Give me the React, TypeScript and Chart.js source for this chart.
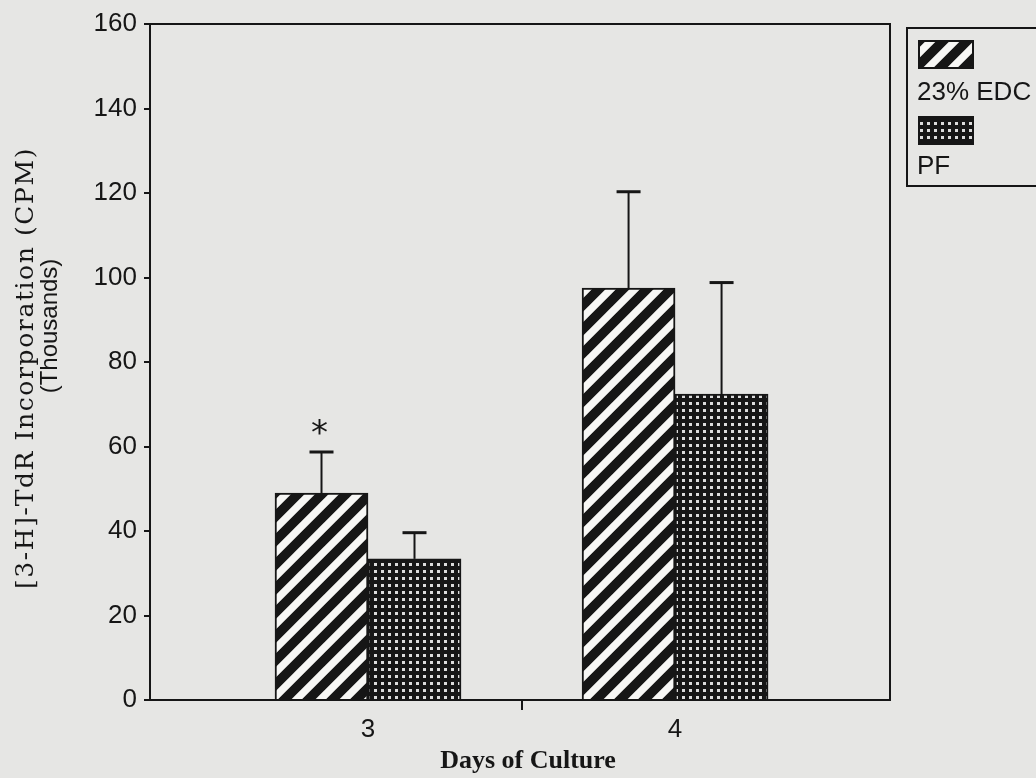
import React, { useEffect, useRef } from 'react';
import { Chart, registerables } from 'chart.js';

Chart.register(...registerables);

// ---- data ----
const days = [3, 4];
const dayLabels = ['3', '4'];
const seriesNames = ['23% EDC', 'PF'];
const edcValues = [49.0, 97.5];
const edcErrorTops = [58.7, 120.3];
const pfValues = [33.4, 72.4];
const pfErrorTops = [39.6, 98.8];
const significance = ['*', ''];
const xDividers = [3.5];
const yTitleLines = ['[3-H]-TdR Incorporation (CPM)', '(Thousands)'];
const xTitle = 'Days of Culture';

const INK = '#161616';
const PAPER = '#e6e6e4';

function stripePattern(): CanvasPattern | string {
  const s = 24;
  const c = document.createElement('canvas');
  c.width = s;
  c.height = s;
  const g = c.getContext('2d')!;
  g.fillStyle = '#f7f7f5';
  g.fillRect(0, 0, s, s);
  g.strokeStyle = INK;
  g.lineWidth = 9.5;
  g.beginPath();
  for (const o of [-s, 0, s]) {
    g.moveTo(o - 4, s + 4);
    g.lineTo(o + s + 4, -4);
  }
  g.stroke();
  const p = g.createPattern(c, 'repeat');
  return p || INK;
}

function dotPattern(): CanvasPattern | string {
  const s = 7;
  const c = document.createElement('canvas');
  c.width = s;
  c.height = s;
  const g = c.getContext('2d')!;
  g.fillStyle = INK;
  g.fillRect(0, 0, s, s);
  g.fillStyle = '#dcdcdc';
  g.fillRect(3, 3, 3, 3);
  const p = g.createPattern(c, 'repeat');
  return p || INK;
}

export default function App() {
  const ref = useRef<HTMLCanvasElement | null>(null);

  useEffect(() => {
    const canvas = ref.current;
    if (!canvas) return;
    const stripes = stripePattern();
    const dots = dotPattern();
    const errorTops = [edcErrorTops, pfErrorTops];
    const fills = [stripes, dots];

    const bgPlugin = {
      id: 'paper',
      beforeDraw(chart: any) {
        const ctx = chart.ctx;
        ctx.save();
        ctx.fillStyle = PAPER;
        ctx.fillRect(0, 0, chart.width, chart.height);
        ctx.restore();
      },
    };

    const decorPlugin = {
      id: 'decor',
      afterDraw(chart: any) {
        const ctx: CanvasRenderingContext2D = chart.ctx;
        const { left, right, top, bottom } = chart.chartArea;
        const yScale = chart.scales.y;
        ctx.save();
        ctx.strokeStyle = INK;
        ctx.fillStyle = INK;

        // plot frame (top + right)
        ctx.lineWidth = 2;
        ctx.beginPath();
        ctx.moveTo(left - 4, top);
        ctx.lineTo(right, top);
        ctx.lineTo(right, bottom);
        ctx.stroke();

        // error bars (upper only)
        chart.data.datasets.forEach((_ds: any, di: number) => {
          const meta = chart.getDatasetMeta(di);
          meta.data.forEach((bar: any, j: number) => {
            const yErr = yScale.getPixelForValue(errorTops[di][j]);
            ctx.lineWidth = 2;
            ctx.beginPath();
            ctx.moveTo(bar.x, bar.y);
            ctx.lineTo(bar.x, yErr);
            ctx.stroke();
            ctx.lineWidth = 3;
            ctx.beginPath();
            ctx.moveTo(bar.x - 12, yErr);
            ctx.lineTo(bar.x + 12, yErr);
            ctx.stroke();
            if (di === 0 && significance[j]) {
              ctx.font = '34px "DejaVu Sans"';
              ctx.textAlign = 'center';
              ctx.textBaseline = 'alphabetic';
              const m = ctx.measureText(significance[j]);
              const h = m.actualBoundingBoxAscent + m.actualBoundingBoxDescent;
              const cy = yErr - 25;
              ctx.fillText(significance[j], bar.x - 2, cy + h / 2 - m.actualBoundingBoxDescent);
            }
          });
        });

        // y axis title (two lines, rotated)
        ctx.textAlign = 'center';
        ctx.textBaseline = 'middle';
        ctx.save();
        ctx.translate(26, 368);
        ctx.rotate(-Math.PI / 2);
        ctx.font = '25px "DejaVu Serif"';
        (ctx as any).letterSpacing = '1.6px';
        ctx.fillText(yTitleLines[0], 0, 0);
        ctx.restore();
        ctx.save();
        ctx.translate(50, 326);
        ctx.rotate(-Math.PI / 2);
        ctx.font = '24px "Liberation Sans"';
        ctx.fillText(yTitleLines[1], 0, 0);
        ctx.restore();

        // x axis title
        ctx.font = 'bold 26px "Liberation Serif"';
        ctx.fillText(xTitle, 528, 761);

        // legend
        const lx = 907;
        ctx.lineWidth = 2;
        ctx.strokeRect(lx, 28, 160, 158);
        const swatches = [
          { y: 41, h: 27, textY: 93 },
          { y: 117, h: 27, textY: 167 },
        ];
        swatches.forEach((s, i) => {
          ctx.fillStyle = fills[i] as any;
          ctx.fillRect(919, s.y, 54, s.h);
          ctx.strokeStyle = INK;
          ctx.lineWidth = 2;
          ctx.strokeRect(919, s.y, 54, s.h);
          ctx.fillStyle = INK;
          ctx.font = '26px "Liberation Sans"';
          ctx.textAlign = 'left';
          ctx.textBaseline = 'middle';
          ctx.fillText(seriesNames[i], 917, s.textY);
        });
        ctx.restore();
      },
    };

    const chart = new Chart(canvas, {
      type: 'bar',
      data: {
        datasets: [
          {
            label: seriesNames[0],
            data: days.map((d, i) => ({ x: d, y: edcValues[i] })),
            backgroundColor: stripes as any,
            borderColor: INK,
            borderWidth: 2,
            barThickness: 93,
          },
          {
            label: seriesNames[1],
            data: days.map((d, i) => ({ x: d, y: pfValues[i] })),
            backgroundColor: dots as any,
            borderColor: INK,
            borderWidth: 2,
            barThickness: 93,
          },
        ],
      },
      options: {
        responsive: false,
        animation: false,
        events: [],
        layout: { padding: { left: 0, right: 146, top: 24, bottom: 0 } },
        plugins: {
          legend: { display: false },
          tooltip: { enabled: false },
          title: { display: false },
        },
        scales: {
          x: {
            type: 'linear',
            min: 2.29,
            max: 4.7,
            offset: false,
            afterBuildTicks: (s: any) => {
              s.ticks = [days[0], ...xDividers, days[1]].map((v) => ({ value: v }));
            },
            afterFit: (s: any) => {
              s.height = 78;
            },
            ticks: {
              autoSkip: false,
              maxRotation: 0,
              padding: 4,
              color: INK,
              font: { family: 'Liberation Sans', size: 26 },
              callback: (v: any) => {
                const i = days.indexOf(Number(v));
                return i >= 0 ? dayLabels[i] : '';
              },
            },
            grid: {
              offset: false,
              drawOnChartArea: false,
              drawTicks: true,
              tickLength: 10,
              lineWidth: 2,
              color: (c: any) =>
                c.tick && xDividers.includes(c.tick.value) ? INK : 'rgba(0,0,0,0)',
            },
            border: { display: true, color: INK, width: 2 },
          },
          y: {
            min: 0,
            max: 160,
            afterFit: (s: any) => {
              s.width = 150;
            },
            ticks: {
              stepSize: 20,
              padding: 7,
              color: INK,
              font: { family: 'Liberation Sans', size: 26 },
            },
            grid: {
              drawOnChartArea: false,
              drawTicks: true,
              tickLength: 6,
              lineWidth: 2,
              color: INK,
            },
            border: { display: true, color: INK, width: 2 },
          },
        },
      } as any,
      plugins: [bgPlugin, decorPlugin],
    });

    return () => chart.destroy();
  }, []);

  return (
    <div style={{ position: 'fixed', left: 0, top: 0, width: 1036, height: 778, background: PAPER }}>
      <canvas ref={ref} width={1036} height={778} style={{ display: 'block' }} />
    </div>
  );
}
